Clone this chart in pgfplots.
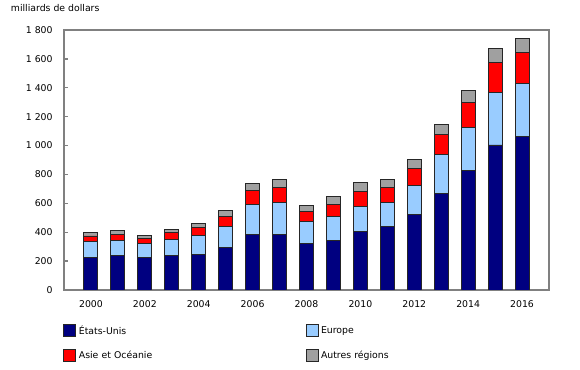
\documentclass[border=0pt]{standalone}
\usepackage{pgfplots}
\pgfplotsset{compat=1.18}
\usepackage{fontspec}
\setmainfont{DejaVu Sans}
\definecolor{cUS}{RGB}{0,0,128}
\definecolor{cEU}{RGB}{153,204,255}
\definecolor{cAS}{RGB}{255,0,0}
\definecolor{cOT}{RGB}{160,160,160}
\definecolor{axgray}{RGB}{128,128,128}
\pgfplotstableread{
year us eu as ot
2000 226 108 40 25
2001 240 104 41 26
2002 228 95 35 21
2003 240 111 48 21
2004 249 130 55 28
2005 293 148 71 37
2006 381 214 95 47
2007 381 228 101 56
2008 323 150 70 42
2009 341 171 83 54
2010 402 177 106 58
2011 438 169 104 53
2012 526 199 117 60
2013 671 268 139 69
2014 826 300 171 81
2015 1004 362 212 95
2016 1066 362 213 101
}\data
\begin{document}
\begin{tikzpicture}
\useasboundingbox (0,0) rectangle (435pt,277.5pt);
\node[anchor=west,inner sep=0pt,font=\fontsize{7}{8}\selectfont] at (8pt,271.5pt) {milliards de dollars};
\begin{axis}[
  at={(48pt,60pt)}, anchor=south west,
  scale only axis, width=363.75pt, height=195pt,
  xmin=1999, xmax=2017, ymin=0, ymax=1800,
  ybar stacked, bar width=0.52,
  axis line style={draw=axgray, line width=1.3pt},
  xtick={2000,2002,...,2016},
  xticklabels={2000,2002,2004,2006,2008,2010,2012,2014,2016},
  xtick style={draw=none},
  ytick={0,200,...,1800},
  yticklabels={0,200,400,600,800,1\ 000,1\ 200,1\ 400,1\ 600,1\ 800},
  ytick pos=left, tick align=inside, major tick length=3pt,
  ytick style={draw=axgray, line width=1pt},
  tick label style={font=\fontsize{7}{8}\selectfont},
  xticklabel style={yshift=-4.5pt},
  yticklabel style={xshift=-5pt},
  every axis plot/.append style={draw=black!85, line width=0.7pt},
  legend columns=2,
  legend cell align=left,
  legend style={at={(-0.01,-0.115)}, anchor=north west, draw=none, fill=none,
    font=\fontsize{7}{8}\selectfont, row sep=7pt,
    /tikz/every even column/.append style={text width=168pt},
    /tikz/every odd column/.append style={inner xsep=0pt}},
  legend image code/.code={\draw[#1, line width=0.6pt] (0pt,-4.5pt) rectangle (9pt,4.5pt);},
]
\addplot[fill=cUS] table[x=year,y=us]{\data};
\addplot[fill=cEU] table[x=year,y=eu]{\data};
\addplot[fill=cAS] table[x=year,y=as]{\data};
\addplot[fill=cOT] table[x=year,y=ot]{\data};
\legend{États-Unis,Europe,Asie et Océanie,Autres régions}
\end{axis}
\end{tikzpicture}
\end{document}
